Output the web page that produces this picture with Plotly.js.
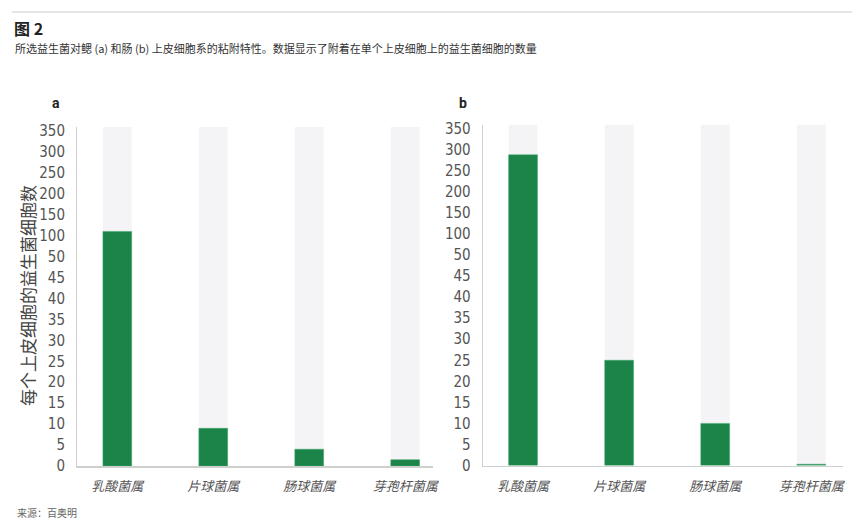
<!DOCTYPE html>
<html>
<head>
<meta charset="utf-8">
<script src="https://cdn.plot.ly/plotly-3.0.1.min.js"></script>
<style>
html,body{margin:0;padding:0;background:#fff;}
#chart{width:865px;height:528px;}
</style>
</head>
<body>
<div id="chart"></div>
<script>
// ---- data ----
const categories = ['乳酸菌属', '片球菌属', '肠球菌属', '芽孢杆菌属'];
const gillValues = [110, 9, 4, 1.5];      // panel a (鳃)
const gutValues = [288, 25, 10, 0.3];     // panel b (肠)
const backgroundValues = [360, 360, 360, 360];
const tickValuesRaw = [0, 5, 10, 15, 20, 25, 30, 35, 40, 45, 50, 100, 150, 200, 250, 300, 350];
const tickLabels = ['0', '5', '10', '15', '20', '25', '30', '35', '40', '45', '50', '100', '150', '200', '250', '300', '350'];

// broken (piecewise) value scale of the original: step 5 up to 50, then step 50
function scaleValue(v) {
  return v <= 50 ? v / 5 : 10 + (v - 50) / 50;
}

const W = 865, H = 528;
const green = '#1c8449';
const bgGrey = '#f4f4f6';
const numFont = {family: '"Liberation Sans Narrow", "DejaVu Sans Condensed", Roboto, sans-serif', size: 15, color: '#555'};
const catFont = {family: '"Noto Sans CJK SC", sans-serif', size: 13, color: '#555', style: 'italic'};

function barPair(values, xa, ya) {
  return [
    {type: 'bar', x: categories, y: backgroundValues.map(scaleValue), xaxis: xa, yaxis: ya,
     marker: {color: bgGrey}, hoverinfo: 'skip', showlegend: false},
    {type: 'bar', x: categories, y: values.map(scaleValue), customdata: values, xaxis: xa, yaxis: ya,
     marker: {color: green, line: {color: '#3aa86a', width: 0.5}}, hovertemplate: '%{x}: %{customdata}<extra></extra>', showlegend: false}
  ];
}

const data = [...barPair(gillValues, 'x', 'y'), ...barPair(gutValues, 'x2', 'y2')];

function yAxis(domain, top, anchor) {
  return {
    domain: domain, range: [0, top], fixedrange: true, anchor: anchor,
    tickmode: 'array', tickvals: tickValuesRaw.map(scaleValue), ticktext: tickLabels,
    showgrid: false, zeroline: false, showline: true, linecolor: '#cfcfcf', linewidth: 1,
    ticks: '', ticklabelstandoff: 8, tickfont: numFont
  };
}
function xAxis(domain, range, anchor) {
  return {
    domain: domain, range: range, type: 'category', fixedrange: true, anchor: anchor,
    showgrid: false, zeroline: false, showline: true, linecolor: '#cfcfcf', linewidth: 1.5,
    ticks: '', ticklabelstandoff: 8, tickfont: catFont
  };
}

const layout = {
  width: W, height: H,
  margin: {l: 0, r: 0, t: 0, b: 0},
  paper_bgcolor: '#fff', plot_bgcolor: 'rgba(0,0,0,0)',
  barmode: 'overlay', bargap: 0.7,
  showlegend: false,
  xaxis: xAxis([77 / W, 433 / W], [-0.42, 3.29], 'y'),
  yaxis: yAxis([(H - 466) / H, (H - 126.7) / H], scaleValue(360), 'x'),
  xaxis2: xAxis([482.7 / W, 843 / W], [-0.42, 3.33], 'y2'),
  yaxis2: yAxis([(H - 465.5) / H, (H - 124.5) / H], scaleValue(360), 'x2'),
  shapes: [
    {type: 'line', xref: 'paper', yref: 'paper', x0: 12 / W, x1: 852 / W, y0: (H - 12) / H, y1: (H - 12) / H,
     line: {color: '#cccccc', width: 1}}
  ],
  annotations: [
    {text: '<b>图 2</b>', xref: 'paper', yref: 'paper', x: 12 / W, y: (H - 28.5) / H, xanchor: 'left', yanchor: 'middle',
     showarrow: false, font: {family: '"Noto Sans CJK SC", sans-serif', size: 16, color: '#222'}},
    {text: '所选益生菌对鳃 (a) 和肠 (b) 上皮细胞系的粘附特性。数据显示了附着在单个上皮细胞上的益生菌细胞的数量',
     xref: 'paper', yref: 'paper', x: 13 / W, y: (H - 47.5) / H, xanchor: 'left', yanchor: 'middle',
     showarrow: false, font: {family: '"Noto Sans CJK SC", sans-serif', size: 11, color: '#333'}},
    {text: '<b>a</b>', xref: 'paper', yref: 'paper', x: 56 / W, y: (H - 103) / H, xanchor: 'center', yanchor: 'middle',
     showarrow: false, font: {family: 'Roboto, "Liberation Sans", sans-serif', size: 14, color: '#222'}},
    {text: '<b>b</b>', xref: 'paper', yref: 'paper', x: 463 / W, y: (H - 103) / H, xanchor: 'center', yanchor: 'middle',
     showarrow: false, font: {family: 'Roboto, "Liberation Sans", sans-serif', size: 14, color: '#222'}},
    {text: '每个上皮细胞的益生菌细胞数', xref: 'paper', yref: 'paper', x: 27 / W, y: (H - 296) / H,
     xanchor: 'center', yanchor: 'middle', textangle: -90, showarrow: false,
     font: {family: '"Noto Sans CJK SC", sans-serif', size: 17, color: '#444'}},
    {text: '来源：百奥明', xref: 'paper', yref: 'paper', x: 15 / W, y: (H - 512) / H, xanchor: 'left', yanchor: 'middle',
     showarrow: false, font: {family: '"Noto Sans CJK SC", sans-serif', size: 10, color: '#666'}}
  ]
};

Plotly.newPlot('chart', data, layout, {displayModeBar: false, staticPlot: true});
</script>
</body>
</html>
